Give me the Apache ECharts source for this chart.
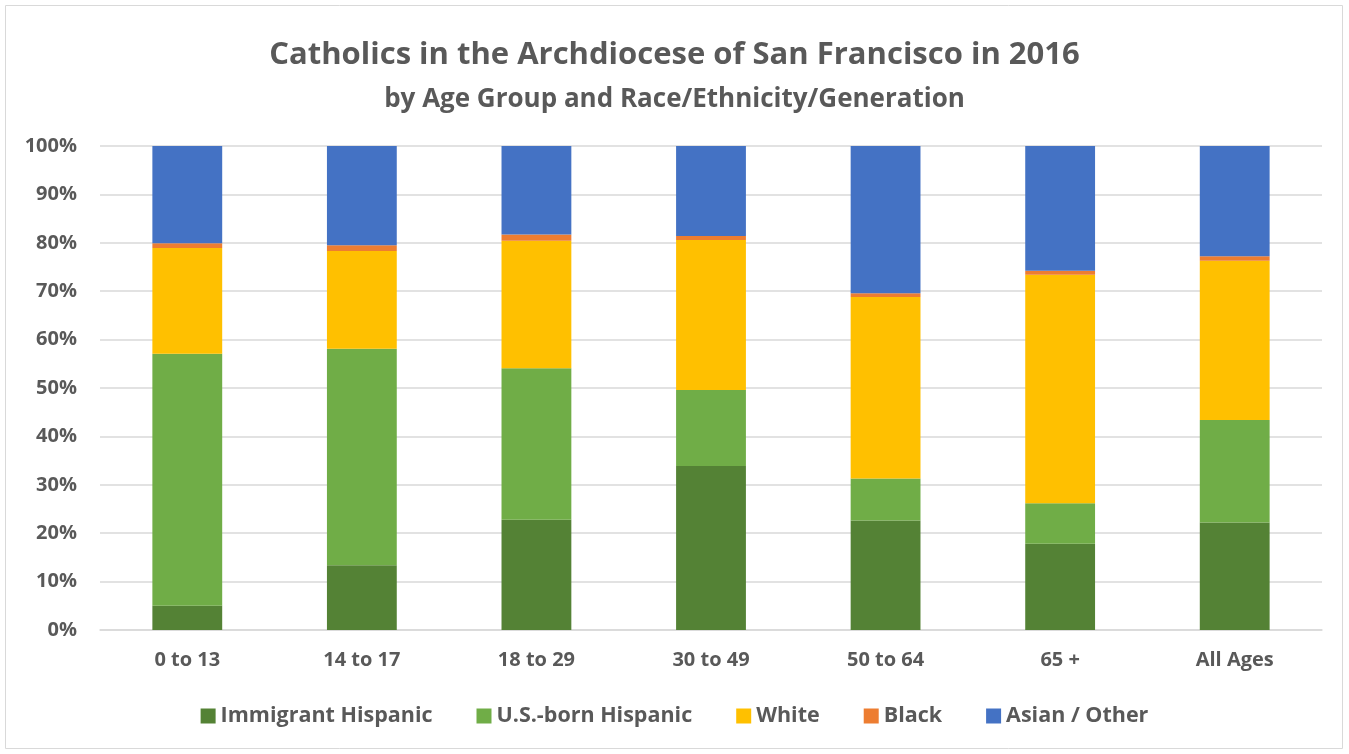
<!DOCTYPE html>
<html><head><meta charset="utf-8">
<script src="https://cdn.jsdelivr.net/npm/echarts@6/dist/echarts.min.js"></script>
<style>html,body{margin:0;padding:0;background:#fff}#c{width:1349px;height:754px}</style>
</head><body><div id="c"></div>
<script>
const categories = ['0 to 13','14 to 17','18 to 29','30 to 49','50 to 64','65 +','All Ages'];
const immigrantHispanic = [5.0, 13.4, 22.8, 33.9, 22.6, 17.8, 22.2];
const usBornHispanic   = [52.1, 44.7, 31.3, 15.7, 8.7, 8.4, 21.2];
const white            = [21.8, 20.2, 26.3, 31.0, 37.5, 47.2, 32.9];
const black            = [1.0, 1.2, 1.3, 0.8, 0.8, 0.8, 0.9];
const asianOther       = [20.1, 20.5, 18.3, 18.6, 30.4, 25.8, 22.8];
const seriesNames = ['Immigrant Hispanic','U.S.-born Hispanic','White','Black','Asian / Other'];
const seriesData = [immigrantHispanic, usBornHispanic, white, black, asianOther];
const colors = ['#548235','#70AD47','#FFC000','#ED7D31','#4472C4'];
const FONT = 'Open Sans';
const chart = echarts.init(document.getElementById('c'));
chart.setOption({
  animation:false,
  textStyle:{fontFamily:FONT},
  graphic:[{type:'rect',shape:{x:5.5,y:5.5,width:1337,height:743},style:{fill:'none',stroke:'#d9d9d9',lineWidth:1}}],
  title:{
    text:'Catholics in the Archdiocese of San Francisco in 2016',
    subtext:'by Age Group and Race/Ethnicity/Generation',
    left:'center', top:35, itemGap:16,
    textStyle:{fontFamily:FONT,fontSize:31,fontWeight:'bold',color:'#595959'},
    subtextStyle:{fontFamily:FONT,fontSize:26,fontWeight:'bold',color:'#595959'}
  },
  legend:{
    bottom:22, left:'center', itemWidth:15, itemHeight:15, itemGap:44,
    icon:'rect',
    textStyle:{fontFamily:FONT,fontSize:21.5,color:'#595959',fontWeight:'bold'},
    data:seriesNames
  },
  grid:{left:100,right:27,top:146,bottom:124,containLabel:false},
  xAxis:{
    type:'category', data:categories,
    axisTick:{show:false},
    axisLine:{lineStyle:{color:'#d9d9d9',width:1.5}},
    axisLabel:{fontFamily:FONT,fontSize:20,fontWeight:'bold',color:'#595959',margin:20}
  },
  yAxis:{
    type:'value', min:0, max:100, interval:10,
    axisLabel:{formatter:'{value}%',fontFamily:FONT,fontSize:20,fontWeight:'bold',color:'#595959',margin:23},
    axisLine:{show:false}, axisTick:{show:false},
    splitLine:{lineStyle:{color:'#d9d9d9',width:1.5}}
  },
  series: seriesData.map((d,i)=>({
    name:seriesNames[i], type:'bar', stack:'total', data:d, barWidth:'40%',
    itemStyle:{color:colors[i]}
  }))
});
</script></body></html>
